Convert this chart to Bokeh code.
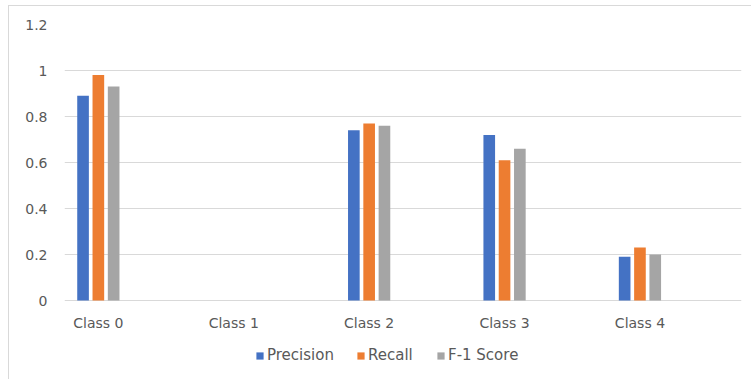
from bokeh.plotting import figure
from bokeh.models import Range1d, FixedTicker, ColumnDataSource, Legend, LegendItem
from bokeh.core.properties import value
from bokeh.embed import file_html
from bokeh.resources import INLINE

# Per-class metrics
classes = ["Class 0", "Class 1", "Class 2", "Class 3", "Class 4"]
precision = [0.89, 0.0, 0.74, 0.72, 0.19]
recall = [0.98, 0.0, 0.77, 0.61, 0.23]
f1_score = [0.93, 0.0, 0.76, 0.66, 0.20]
y_ticks = [0, 0.2, 0.4, 0.6, 0.8, 1.0, 1.2]
y_tick_labels = ["0", "0.2", "0.4", "0.6", "0.8", "1", "1.2"]

series = [
    ("Precision", precision, "#4472C4", -0.113),
    ("Recall", recall, "#ED7D31", 0.0),
    ("F-1 Score", f1_score, "#A5A5A5", 0.113),
]

FONT = "DejaVu Sans"
TEXT = "#595959"
GRID = "#D9D9D9"

# frame geometry: value axis 0..1.2, plus room underneath for the
# category labels and the legend
FRAME_H = 356
BELOW_PX = 80
PX_PER_UNIT = (FRAME_H - BELOW_PX) / 1.2
y_bottom = -BELOW_PX / PX_PER_UNIT

p = figure(
    width=743, height=374,
    x_range=Range1d(-0.25, 4.75), y_range=Range1d(y_bottom, 1.2),
    output_backend="svg", toolbar_location=None,
    min_border_left=55, min_border_right=11, min_border_top=18, min_border_bottom=0,
)
# chart-area border on the left and top edges
p.margin = (5, 0, 0, 8)
p.styles = {"border-left": "1px solid #D9D9D9", "border-top": "1px solid #D9D9D9"}
p.outline_line_color = None
p.background_fill_color = "white"
p.border_fill_color = "white"

xs = list(range(len(classes)))
renderers = []
for name, vals, color, off in series:
    src = ColumnDataSource(dict(x=[x + off for x in xs], top=vals))
    r = p.vbar(x="x", top="top", width=0.086, bottom=0, source=src,
               fill_color=color, line_color=None)
    renderers.append((name, r))

# category labels under the baseline
p.text(x=xs, y=[0] * len(xs), text=classes, y_offset=22,
       text_align="center", text_baseline="middle",
       text_font=value(FONT), text_font_size="14px", text_color=TEXT)

# y axis
p.yaxis.ticker = FixedTicker(ticks=y_ticks)
p.yaxis.major_label_overrides = {t: l for t, l in zip(y_ticks, y_tick_labels)}
p.yaxis.axis_line_color = None
p.yaxis.major_tick_line_color = None
p.yaxis.minor_tick_line_color = None
p.yaxis.major_tick_out = 0
p.yaxis.major_label_standoff = 17
p.yaxis.major_label_text_font = FONT
p.yaxis.major_label_text_font_size = "14px"
p.yaxis.major_label_text_color = TEXT

p.xaxis.visible = False
p.xgrid.grid_line_color = None
p.ygrid.ticker = FixedTicker(ticks=y_ticks)
p.ygrid.grid_line_color = GRID
p.ygrid.grid_line_width = 1

# one legend entry per series, laid out in a row under the labels
legend_x = [191, 292, 372]
for (name, r), lx in zip(renderers, legend_x):
    lg = Legend(items=[LegendItem(label=name, renderers=[r])], location=(lx, 16))
    lg.label_text_font = FONT
    lg.label_text_font_size = "15px"
    lg.label_text_color = TEXT
    lg.glyph_width = 9
    lg.glyph_height = 9
    lg.label_standoff = 3
    lg.padding = 0
    lg.margin = 0
    lg.border_line_color = None
    lg.background_fill_alpha = 0
    p.add_layout(lg, "center")

open("out.html", "w").write(file_html(p, INLINE))
